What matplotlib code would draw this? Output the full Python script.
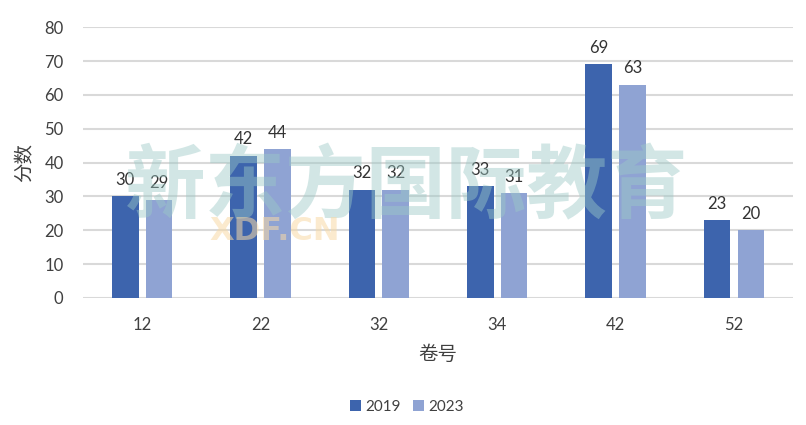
import matplotlib
matplotlib.use("Agg")
import matplotlib.pyplot as plt
import numpy as np

plt.rcParams['font.family'] = ['Lato', 'Noto Sans CJK SC', 'DejaVu Sans']

# data
papers = ["12", "22", "32", "34", "42", "52"]
scores_2019 = [30, 42, 32, 33, 69, 23]
scores_2023 = [29, 44, 32, 31, 63, 20]

DARK = "#3D64AD"
LIGHT = "#8FA3D3"
TEXT = "#404040"

fig = plt.figure(figsize=(8.06, 4.25), dpi=100)
ax = fig.add_axes([0.103, 0.299, 0.881, 0.637])

x = np.arange(len(papers))
w = 0.225
off = 0.143
b1 = ax.bar(x - off, scores_2019, w, color=DARK, label="2019", zorder=2)
b2 = ax.bar(x + off, scores_2023, w, color=LIGHT, label="2023", zorder=2)

for bars in (b1, b2):
    ax.bar_label(bars, padding=6, fontsize=12, color="#333333")

ax.set_xlim(-0.5, len(papers) - 0.5)
ax.set_ylim(0, 80)
ax.set_yticks(range(0, 81, 10))
ax.set_xticks(x)
ax.set_xticklabels(papers)
ax.yaxis.grid(True, color="#D9D9D9", linewidth=1.5, zorder=0)
ax.set_axisbelow(True)
for s in ax.spines.values():
    s.set_visible(False)
ax.tick_params(axis="both", length=0, labelsize=12, colors=TEXT)
ax.tick_params(axis="y", pad=14)
ax.tick_params(axis="x", pad=14)

ax.set_xlabel("卷号", fontsize=14, color=TEXT, labelpad=8)
ax.set_ylabel("分数", fontsize=14, color=TEXT, labelpad=8)

# faint watermark
fig.text(0.155, 0.555, "新东方国际教育", fontsize=58, fontweight="bold",
         family=['Noto Sans CJK SC'], color="#9CC9C6", alpha=0.45,
         ha="left", va="center", zorder=5)
fig.text(0.26, 0.455, "XDF.CN", fontsize=23, fontweight="bold",
         family=['DejaVu Sans'], color="#F8D9A6", alpha=0.55,
         ha="left", va="center", zorder=5)

fig.legend(loc="center", bbox_to_anchor=(0.505, 0.042), ncol=2, frameon=False,
           fontsize=11, handlelength=0.7, handleheight=0.7, handletextpad=0.3,
           columnspacing=0.8, labelcolor=TEXT)

fig.savefig("out.png", dpi=100)
